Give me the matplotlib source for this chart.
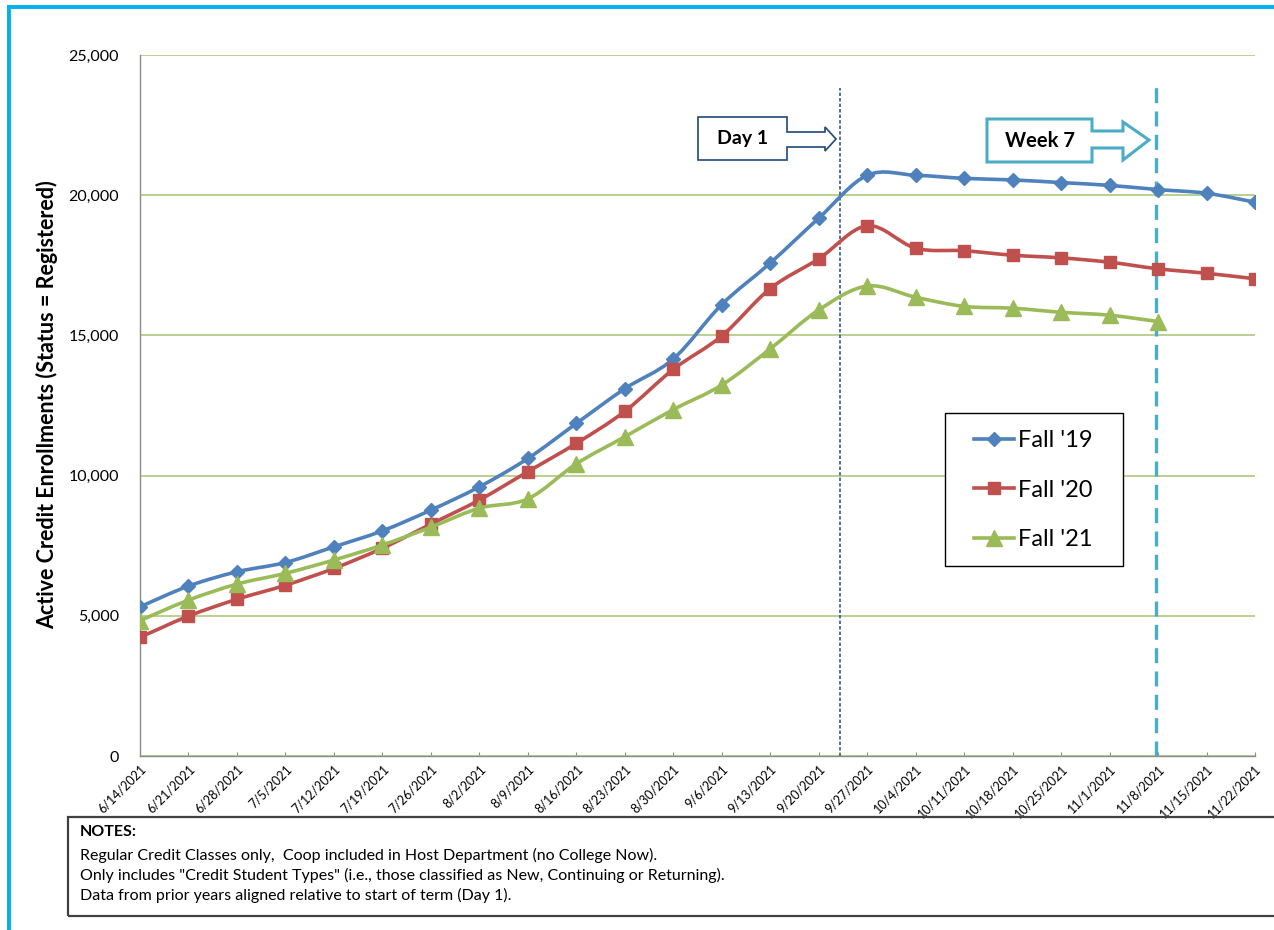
import numpy as np
import matplotlib
matplotlib.use('Agg')
import matplotlib.pyplot as plt
from matplotlib.path import Path
from matplotlib.patches import PathPatch, Polygon, Rectangle
from matplotlib.lines import Line2D
from matplotlib.ticker import FuncFormatter, MultipleLocator

plt.rcParams['font.family'] = ['Lato', 'DejaVu Sans']

# week start dates (category axis)
weeks = ['6/14/2021', '6/21/2021', '6/28/2021', '7/5/2021', '7/12/2021', '7/19/2021',
         '7/26/2021', '8/2/2021', '8/9/2021', '8/16/2021', '8/23/2021', '8/30/2021',
         '9/6/2021', '9/13/2021', '9/20/2021', '9/27/2021', '10/4/2021', '10/11/2021',
         '10/18/2021', '10/25/2021', '11/1/2021', '11/8/2021', '11/15/2021', '11/22/2021']

fall19 = [5320, 6060, 6570, 6900, 7460, 8030, 8770, 9600, 10610, 11860, 13100, 14160,
          16100, 17580, 19180, 20710, 20710, 20600, 20545, 20450, 20350, 20200, 20070, 19750]
fall20 = [4230, 4990, 5590, 6090, 6690, 7410, 8270, 9130, 10140, 11150, 12290, 13790,
          14980, 16670, 17730, 18910, 18110, 18020, 17860, 17765, 17610, 17375, 17215, 17020]
fall21 = [4830, 5560, 6130, 6515, 6990, 7525, 8160, 8840, 9170, 10420, 11385, 12355,
          13230, 14520, 15906, 16760, 16360, 16035, 15970, 15825, 15720, 15495]

series_labels = ["Fall '19", "Fall '20", "Fall '21"]

# marker lines (category positions)
day1_pos = 14.43
week7_pos = 20.95

notes = ['Regular Credit Classes only,  Coop included in Host Department (no College Now).',
         'Only includes "Credit Student Types" (i.e., those classified as New, Continuing or Returning).',
         'Data from prior years aligned relative to start of term (Day 1).']

W, H = 1274, 930


def fx(x):
    return x / W


def fy(y):
    return 1 - y / H


def smooth_path(xs, ys):
    # Excel-style smoothed line: cubic bezier through every point
    pts = np.column_stack([xs, ys]).astype(float)
    n = len(pts)
    verts = [pts[0]]
    codes = [Path.MOVETO]
    for i in range(n - 1):
        p0 = pts[max(i - 1, 0)]
        p1 = pts[i]
        p2 = pts[i + 1]
        p3 = pts[min(i + 2, n - 1)]
        verts += [p1 + (p2 - p0) / 6, p2 - (p3 - p1) / 6, p2]
        codes += [Path.CURVE4] * 3
    return Path(verts, codes)


def callout(fig, box, shaft, head, tip, color, lw, text, fs):
    x0, y0, x1, y1 = box
    s0, s1 = shaft
    hx, h0, h1 = head
    pts = [(x0, y0), (x1, y0), (x1, s0), (hx, s0), (hx, h0), tip,
           (hx, h1), (hx, s1), (x1, s1), (x1, y1), (x0, y1)]
    poly = Polygon([(fx(a), fy(b)) for a, b in pts], closed=True, transform=fig.transFigure,
                   facecolor='white', edgecolor=color, lw=lw, joinstyle='miter')
    fig.add_artist(poly)
    fig.text(fx((x0 + x1) / 2), fy((y0 + y1) / 2), text, ha='center', va='center',
             fontsize=fs, fontweight='bold', color='black')


fig = plt.figure(figsize=(W / 100, H / 100), dpi=100)
ax = fig.add_axes([fx(140), fy(756), fx(1255) - fx(140), (756 - 55) / H])

x = np.arange(len(weeks))
styles = [
    (fall19, '#4F81BD', 'D', 7),
    (fall20, '#C0504D', 's', 8.5),
    (fall21, '#9BBB59', '^', 11),
]
handles = []
for i, (vals, color, mk, ms) in enumerate(styles):
    xs = x[:len(vals)]
    ax.add_patch(PathPatch(smooth_path(xs, vals), facecolor='none', edgecolor=color,
                           lw=2.6, capstyle='round', joinstyle='round', zorder=3 + i))
    ax.plot(xs, vals, ls='none', marker=mk, ms=ms, color=color, mec=color, zorder=3 + i)
    handles.append(Line2D([], [], color=color, lw=2.6, marker=mk, ms=ms, mec=color))

ax.axvline(day1_pos, ymin=0, ymax=(756 - 88) / 701, color='#1F497D', lw=1.1,
           ls=(0, (2.2, 1.4)), zorder=2)
ax.axvline(week7_pos, ymin=0, ymax=(756 - 82) / 701, color='#4BACC6', lw=2.4,
           ls=(0, (4.5, 2.5)), zorder=2)

ax.set_xlim(0, len(weeks) - 1)
ax.set_ylim(0, 25000)
ax.yaxis.set_major_locator(MultipleLocator(5000))
ax.yaxis.set_major_formatter(FuncFormatter(lambda v, p: f'{int(v):,}'))
ax.grid(axis='y', color='#A6C472', lw=1.1)
ax.set_axisbelow(True)
for side in ['top', 'right']:
    ax.spines[side].set_visible(False)
for side in ['left', 'bottom']:
    ax.spines[side].set_color('#8C8C8C')
    ax.spines[side].set_linewidth(1)

ax.set_xticks(x)
ax.set_xticklabels(weeks, rotation=45, ha='right', va='top', rotation_mode='anchor', fontsize=9)
ax.tick_params(axis='x', direction='in', length=3, color='#8C8C8C', pad=5)
ax.tick_params(axis='y', length=0, pad=15, labelsize=11.5)

fig.text(fx(47), fy(405), 'Active Credit Enrollments (Status = Registered)', rotation=90,
         ha='center', va='center', fontsize=15.5, fontweight='bold')

# legend with its own frame
fig.add_artist(Rectangle((fx(945), fy(566)), fx(1123) - fx(945), (566 - 413) / H,
                         transform=fig.transFigure, facecolor='white', edgecolor='black',
                         lw=1, zorder=5))
leg = fig.legend(handles, series_labels, loc='center',
                 bbox_to_anchor=(fx(1033), fy(490)), frameon=False, fontsize=17,
                 handlelength=1.7, handletextpad=0.15, labelspacing=1.2)
leg.set_zorder(6)

callout(fig, (698, 117, 787, 160), (132, 147), (825, 127, 151), (836, 139),
        '#1F497D', 1.2, 'Day 1', 14)
callout(fig, (987, 119, 1092, 162), (131, 148), (1123, 122, 160), (1149, 140),
        '#4BACC6', 2.2, 'Week 7', 14.5)

# notes box
fig.add_artist(Rectangle((fx(68), fy(916)), fx(1290) - fx(68), (916 - 817) / H,
                         transform=fig.transFigure, facecolor='none', edgecolor='#404040', lw=1.6))
fig.text(fx(80), fy(832), 'NOTES:', fontsize=11.5, fontweight='bold', va='center')
for k, line in enumerate(notes):
    fig.text(fx(80), fy(855 + 20 * k), line, fontsize=11.5, va='center')

# page border
fig.add_artist(Line2D([fx(9), fx(9)], [0, fy(7)], transform=fig.transFigure,
                      color='#00B0F0', lw=2.8))
fig.add_artist(Line2D([fx(9), 1], [fy(7), fy(7)], transform=fig.transFigure,
                      color='#00B0F0', lw=2.8))

fig.savefig('out.png', dpi=100)
